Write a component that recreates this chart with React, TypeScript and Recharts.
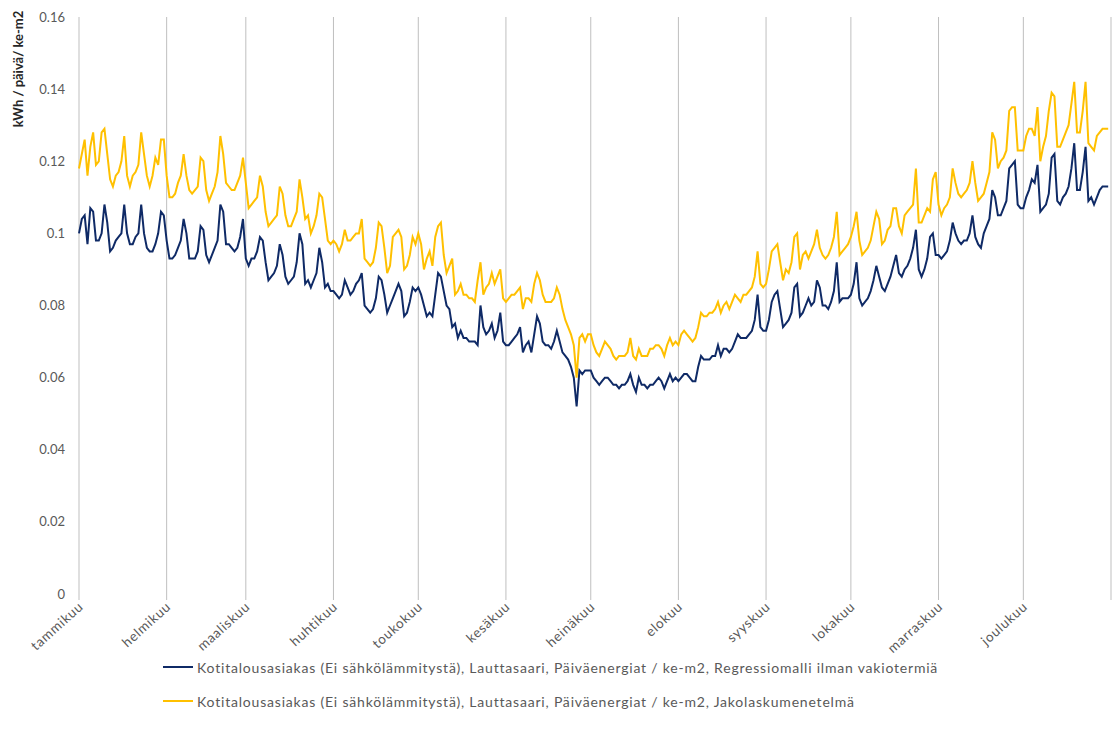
import { LineChart, Line, XAxis, YAxis, CartesianGrid } from 'recharts'

const MONTHS = [
  'tammikuu', 'helmikuu', 'maaliskuu', 'huhtikuu', 'toukokuu', 'kesäkuu',
  'heinäkuu', 'elokuu', 'syyskuu', 'lokakuu', 'marraskuu', 'joulukuu',
]
// day index of each month start, plus year end
const MONTH_START = [0, 31, 59, 90, 120, 151, 181, 212, 243, 273, 304, 334, 365]
const Y_TICKS = [0, 0.02, 0.04, 0.06, 0.08, 0.1, 0.12, 0.14, 0.16]

const SERIES_NAMES = [
  'Kotitalousasiakas (Ei sähkölämmitystä), Lauttasaari, Päiväenergiat / ke-m2, Regressiomalli ilman vakiotermiä',
  'Kotitalousasiakas (Ei sähkölämmitystä), Lauttasaari, Päiväenergiat / ke-m2, Jakolaskumenetelmä',
]

// kWh / päivä / ke-m2, one value per day, one line per month
const REGRESSIO = [
  0.100, 0.104, 0.105, 0.097, 0.107, 0.106, 0.098, 0.098, 0.100, 0.108, 0.103, 0.095, 0.096, 0.098, 0.099, 0.100, 0.108, 0.100, 0.097, 0.097, 0.099, 0.100, 0.108, 0.100, 0.096, 0.095, 0.095, 0.097, 0.100, 0.106, 0.105,
  0.098, 0.093, 0.093, 0.094, 0.096, 0.098, 0.104, 0.100, 0.093, 0.093, 0.093, 0.095, 0.102, 0.101, 0.094, 0.092, 0.094, 0.096, 0.098, 0.108, 0.106, 0.097, 0.097, 0.096, 0.095, 0.096, 0.099, 0.104,
  0.093, 0.091, 0.093, 0.093, 0.095, 0.099, 0.098, 0.092, 0.087, 0.088, 0.089, 0.091, 0.097, 0.094, 0.088, 0.086, 0.087, 0.088, 0.092, 0.100, 0.097, 0.086, 0.087, 0.085, 0.087, 0.089, 0.096, 0.092, 0.085, 0.086, 0.084,
  0.084, 0.083, 0.082, 0.083, 0.087, 0.085, 0.083, 0.084, 0.086, 0.087, 0.089, 0.080, 0.079, 0.078, 0.079, 0.082, 0.088, 0.087, 0.083, 0.078, 0.080, 0.082, 0.084, 0.086, 0.084, 0.077, 0.078, 0.081, 0.085, 0.084,
  0.085, 0.083, 0.080, 0.077, 0.078, 0.077, 0.083, 0.089, 0.088, 0.084, 0.080, 0.079, 0.074, 0.075, 0.071, 0.073, 0.071, 0.071, 0.070, 0.070, 0.070, 0.069, 0.080, 0.074, 0.072, 0.073, 0.075, 0.071, 0.073, 0.078, 0.070,
  0.069, 0.069, 0.070, 0.071, 0.072, 0.074, 0.067, 0.069, 0.070, 0.067, 0.072, 0.077, 0.075, 0.070, 0.069, 0.069, 0.068, 0.070, 0.073, 0.070, 0.067, 0.066, 0.065, 0.063, 0.060, 0.052, 0.062, 0.061, 0.062, 0.062,
  0.062, 0.060, 0.059, 0.058, 0.059, 0.060, 0.060, 0.059, 0.058, 0.058, 0.057, 0.058, 0.058, 0.059, 0.061, 0.058, 0.056, 0.060, 0.058, 0.058, 0.057, 0.058, 0.058, 0.059, 0.060, 0.059, 0.057, 0.059, 0.061, 0.059, 0.060,
  0.059, 0.060, 0.061, 0.061, 0.060, 0.059, 0.059, 0.063, 0.066, 0.065, 0.065, 0.065, 0.066, 0.066, 0.069, 0.066, 0.068, 0.068, 0.067, 0.068, 0.070, 0.072, 0.071, 0.071, 0.071, 0.072, 0.073, 0.076, 0.083, 0.074, 0.073,
  0.073, 0.076, 0.081, 0.083, 0.084, 0.079, 0.074, 0.075, 0.076, 0.078, 0.085, 0.086, 0.077, 0.078, 0.080, 0.082, 0.080, 0.081, 0.087, 0.085, 0.080, 0.080, 0.079, 0.081, 0.084, 0.092, 0.081, 0.082, 0.082, 0.082,
  0.083, 0.086, 0.092, 0.082, 0.080, 0.081, 0.082, 0.084, 0.087, 0.091, 0.088, 0.085, 0.084, 0.086, 0.088, 0.091, 0.094, 0.089, 0.088, 0.090, 0.091, 0.093, 0.096, 0.101, 0.090, 0.088, 0.090, 0.093, 0.099, 0.100, 0.094,
  0.094, 0.093, 0.094, 0.095, 0.098, 0.103, 0.100, 0.098, 0.097, 0.098, 0.098, 0.100, 0.105, 0.099, 0.097, 0.096, 0.100, 0.102, 0.104, 0.112, 0.110, 0.105, 0.105, 0.107, 0.109, 0.118, 0.119, 0.120, 0.108, 0.107,
  0.107, 0.110, 0.112, 0.115, 0.114, 0.119, 0.106, 0.107, 0.108, 0.111, 0.121, 0.122, 0.109, 0.108, 0.110, 0.111, 0.113, 0.118, 0.125, 0.112, 0.112, 0.117, 0.124, 0.109, 0.110, 0.108, 0.110, 0.112, 0.113, 0.113, 0.113,
]

const JAKOLASKU = [
  0.118, 0.122, 0.126, 0.116, 0.124, 0.128, 0.119, 0.120, 0.128, 0.129, 0.122, 0.115, 0.113, 0.116, 0.117, 0.120, 0.127, 0.116, 0.113, 0.116, 0.117, 0.119, 0.128, 0.122, 0.116, 0.113, 0.116, 0.121, 0.119, 0.126, 0.126,
  0.116, 0.110, 0.110, 0.111, 0.114, 0.116, 0.122, 0.116, 0.112, 0.111, 0.112, 0.113, 0.121, 0.120, 0.112, 0.109, 0.111, 0.113, 0.117, 0.127, 0.122, 0.114, 0.113, 0.112, 0.112, 0.114, 0.116, 0.121,
  0.114, 0.107, 0.108, 0.109, 0.110, 0.116, 0.113, 0.106, 0.102, 0.103, 0.104, 0.105, 0.113, 0.111, 0.105, 0.102, 0.102, 0.104, 0.106, 0.115, 0.110, 0.104, 0.105, 0.100, 0.102, 0.105, 0.111, 0.110, 0.104, 0.098, 0.097,
  0.098, 0.097, 0.095, 0.097, 0.101, 0.098, 0.098, 0.099, 0.100, 0.100, 0.104, 0.093, 0.092, 0.091, 0.092, 0.096, 0.103, 0.102, 0.096, 0.089, 0.091, 0.099, 0.100, 0.101, 0.099, 0.090, 0.091, 0.094, 0.099, 0.097,
  0.100, 0.097, 0.090, 0.093, 0.095, 0.091, 0.099, 0.102, 0.103, 0.094, 0.089, 0.091, 0.093, 0.083, 0.084, 0.086, 0.083, 0.083, 0.082, 0.082, 0.081, 0.087, 0.092, 0.083, 0.085, 0.086, 0.089, 0.086, 0.088, 0.090, 0.082,
  0.081, 0.082, 0.083, 0.083, 0.084, 0.085, 0.079, 0.082, 0.082, 0.081, 0.086, 0.089, 0.087, 0.083, 0.081, 0.081, 0.081, 0.082, 0.085, 0.083, 0.079, 0.076, 0.074, 0.072, 0.069, 0.060, 0.071, 0.072, 0.070, 0.072,
  0.072, 0.069, 0.067, 0.066, 0.068, 0.070, 0.069, 0.068, 0.066, 0.065, 0.066, 0.066, 0.066, 0.067, 0.071, 0.066, 0.065, 0.068, 0.066, 0.066, 0.066, 0.068, 0.068, 0.069, 0.069, 0.068, 0.066, 0.069, 0.071, 0.069, 0.070,
  0.069, 0.072, 0.073, 0.072, 0.071, 0.070, 0.071, 0.074, 0.078, 0.077, 0.077, 0.078, 0.078, 0.079, 0.081, 0.078, 0.080, 0.081, 0.079, 0.081, 0.083, 0.082, 0.081, 0.083, 0.083, 0.084, 0.085, 0.088, 0.095, 0.086, 0.085,
  0.086, 0.090, 0.095, 0.096, 0.097, 0.092, 0.087, 0.090, 0.089, 0.092, 0.099, 0.100, 0.090, 0.094, 0.095, 0.093, 0.095, 0.097, 0.101, 0.096, 0.094, 0.093, 0.094, 0.096, 0.099, 0.106, 0.094, 0.095, 0.096, 0.097,
  0.099, 0.102, 0.106, 0.098, 0.094, 0.095, 0.096, 0.098, 0.102, 0.106, 0.104, 0.097, 0.098, 0.101, 0.102, 0.107, 0.107, 0.102, 0.100, 0.105, 0.106, 0.107, 0.108, 0.118, 0.103, 0.103, 0.105, 0.107, 0.106, 0.115, 0.117,
  0.108, 0.105, 0.107, 0.108, 0.110, 0.118, 0.114, 0.111, 0.110, 0.111, 0.112, 0.114, 0.120, 0.114, 0.109, 0.110, 0.111, 0.114, 0.117, 0.128, 0.126, 0.118, 0.120, 0.121, 0.123, 0.134, 0.135, 0.135, 0.123, 0.123,
  0.123, 0.127, 0.129, 0.129, 0.127, 0.135, 0.120, 0.124, 0.127, 0.134, 0.139, 0.138, 0.124, 0.124, 0.126, 0.128, 0.130, 0.136, 0.142, 0.128, 0.128, 0.134, 0.142, 0.125, 0.124, 0.123, 0.127, 0.128, 0.129, 0.129, 0.129,
]

const COLORS = ['#0f2a66', '#ffc000']
const FONT = 'Lato, "Liberation Sans", sans-serif'
const TEXT = '#595959'

const data = REGRESSIO.map((v, i) => ({ day: i, regressio: v, jakolasku: JAKOLASKU[i] }))

function MonthTick({ x, y, payload }: any) {
  const idx = MONTH_START.indexOf(payload.value)
  const label = MONTHS[idx] ?? ''
  const ax = x + 5
  const ay = y + 6
  return (
    <text
      x={ax}
      y={ay}
      transform={`rotate(-42, ${ax}, ${ay})`}
      textAnchor="end"
      fontSize={13.5}
      letterSpacing={0.7}
      fill={TEXT}
      fontFamily={FONT}
    >
      {label}
    </text>
  )
}

function YTitle() {
  return (
    <text
      x={23}
      y={69}
      transform="rotate(-90, 23, 69)"
      textAnchor="middle"
      fontSize={13}
      fontWeight="bold"
      fill="#262626"
      fontFamily={FONT}
    >
      kWh / päivä/ ke-m2
    </text>
  )
}

export default function App() {
  return (
    <div
      style={{
        position: 'absolute',
        left: 0,
        top: 0,
        width: 1112,
        height: 737,
        background: '#fff',
        fontFamily: FONT,
      }}
    >
      <LineChart
        width={1112}
        height={737}
        data={data}
        margin={{ top: 17, right: 1, bottom: 83, left: 0 }}
      >
        <CartesianGrid horizontal={false} stroke="#bfbfbf" />
        <XAxis
          dataKey="day"
          type="number"
          domain={[0, 365]}
          ticks={MONTH_START}
          interval={0}
          height={60}
          tick={<MonthTick />}
          tickSize={6}
          tickLine={{ stroke: '#bfbfbf' }}
          axisLine={false}
        />
        <YAxis
          domain={[0, 0.16]}
          ticks={Y_TICKS}
          width={79}
          tickSize={0}
          tickMargin={14}
          axisLine={false}
          tickLine={false}
          tick={{ fontSize: 13, fill: TEXT, fontFamily: FONT }}
          tickFormatter={(v: number) => String(+v.toFixed(2))}
          label={{ content: () => <YTitle /> }}
        />
        <Line
          type="linear"
          dataKey="regressio"
          stroke={COLORS[0]}
          strokeWidth={2}
          dot={false}
          isAnimationActive={false}
        />
        <Line
          type="linear"
          dataKey="jakolasku"
          stroke={COLORS[1]}
          strokeWidth={2}
          dot={false}
          isAnimationActive={false}
        />
      </LineChart>

      {/* legend */}
      <div
        style={{ position: 'absolute', left: 163, top: 650, fontSize: 14, letterSpacing: 0.8, color: TEXT }}
      >
        {SERIES_NAMES.map((name, i) => (
          <div key={name} style={{ display: 'flex', alignItems: 'center', height: 34 }}>
            <span
              style={{ display: 'inline-block', width: 30, height: 2, background: COLORS[i], marginRight: 4 }}
            />
            <span style={{ whiteSpace: 'nowrap' }}>{name}</span>
          </div>
        ))}
      </div>
    </div>
  )
}
